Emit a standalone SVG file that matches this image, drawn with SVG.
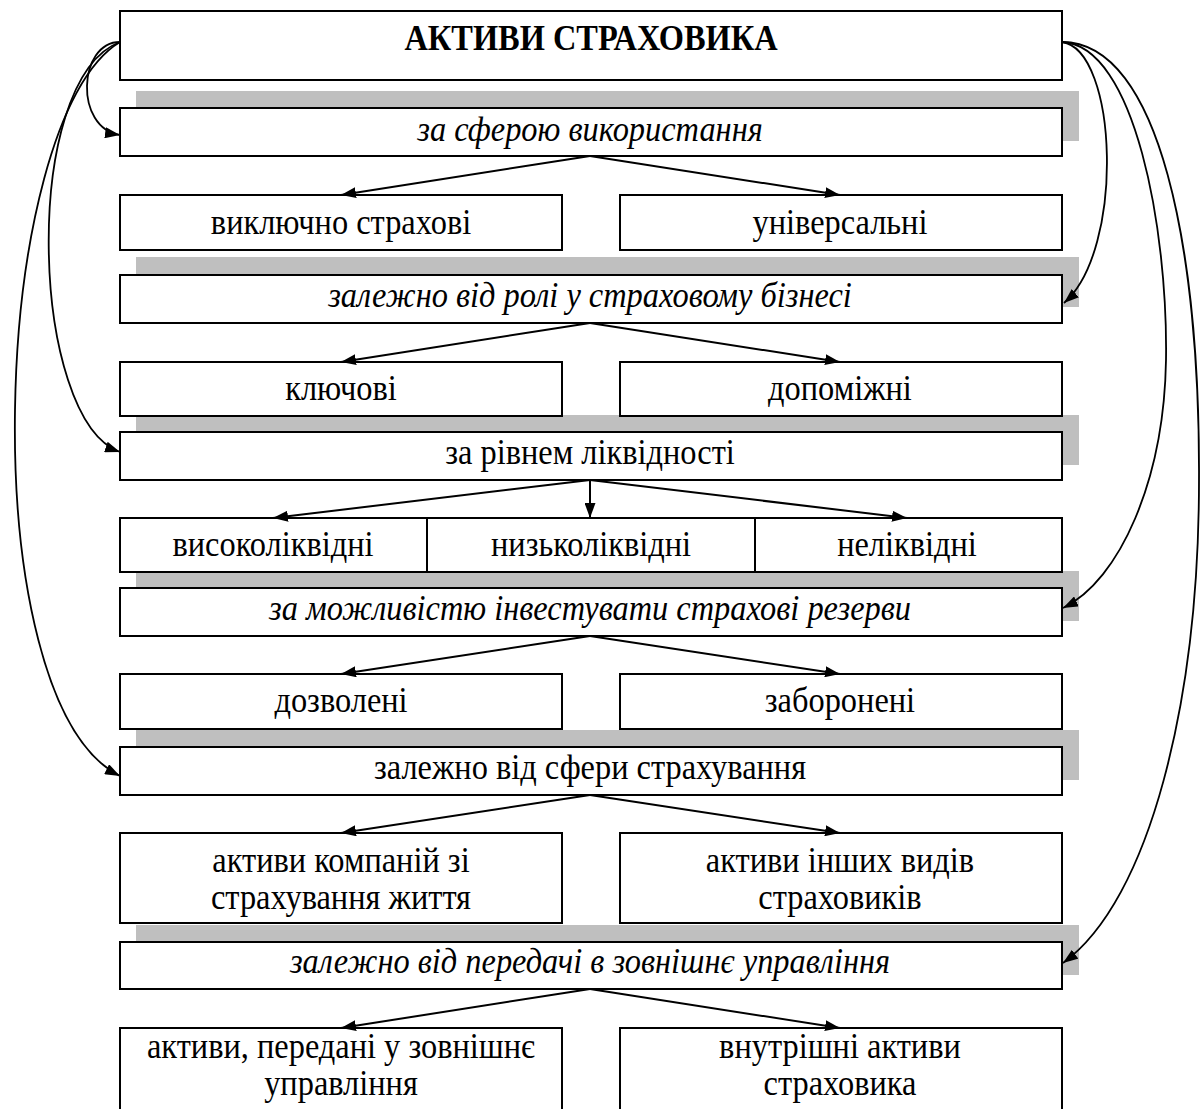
<svg xmlns="http://www.w3.org/2000/svg" width="1203" height="1109" viewBox="0 0 1203 1109">
<defs>
<marker id="ah" markerUnits="userSpaceOnUse" viewBox="0 0 15 11" markerWidth="15" markerHeight="11" refX="15" refY="5.5" orient="auto"><path d="M0,0 L15,5.5 L0,11 z" fill="#000"/></marker>
</defs>
<style>
.box{fill:#fff;stroke:#000;stroke-width:2}
.sh{fill:#bfbfbf}
text{font-family:'Liberation Serif','DejaVu Serif',serif;font-size:36px;fill:#000;text-anchor:middle}
.i{font-style:italic}
.b{font-weight:bold}
.c{fill:none;stroke:#000;stroke-width:2;marker-end:url(#ah)}
.k{fill:none;stroke:#000;stroke-width:1.8;marker-end:url(#ah)}
</style>
<g id="shadows">
<rect class="sh" x="136" y="91" width="943" height="50"/>
<rect class="sh" x="136" y="257" width="943" height="50"/>
<rect class="sh" x="136" y="415" width="943" height="50"/>
<rect class="sh" x="136" y="571" width="943" height="50"/>
<rect class="sh" x="136" y="730" width="943" height="50"/>
<rect class="sh" x="136" y="925" width="943" height="50"/>
</g>
<g id="root"><rect class="box" x="120" y="11" width="942" height="69"/></g>
<g id="cat1"><rect class="box" x="120" y="108" width="942" height="48"/></g>
<g id="n11"><rect class="box" x="120" y="195" width="442" height="55"/></g>
<g id="n12"><rect class="box" x="620" y="195" width="442" height="55"/></g>
<g id="cat2"><rect class="box" x="120" y="275" width="942" height="48"/></g>
<g id="n21"><rect class="box" x="120" y="362" width="442" height="54"/></g>
<g id="n22"><rect class="box" x="620" y="362" width="442" height="54"/></g>
<g id="cat3"><rect class="box" x="120" y="432" width="942" height="48"/></g>
<g id="row3"><rect class="box" x="120" y="518" width="942" height="54"/><line x1="427" y1="518" x2="427" y2="572" stroke="#000" stroke-width="2"/><line x1="755" y1="518" x2="755" y2="572" stroke="#000" stroke-width="2"/></g>
<g id="cat4"><rect class="box" x="120" y="588" width="942" height="48"/></g>
<g id="n41"><rect class="box" x="120" y="674" width="442" height="55"/></g>
<g id="n42"><rect class="box" x="620" y="674" width="442" height="55"/></g>
<g id="cat5"><rect class="box" x="120" y="747" width="942" height="48"/></g>
<g id="n51"><rect class="box" x="120" y="833" width="442" height="90"/></g>
<g id="n52"><rect class="box" x="620" y="833" width="442" height="90"/></g>
<g id="cat6"><rect class="box" x="120" y="942" width="942" height="47"/></g>
<g id="n61"><rect class="box" x="120" y="1028" width="442" height="100"/></g>
<g id="n62"><rect class="box" x="620" y="1028" width="442" height="100"/></g>
<g id="labels" transform="scale(0.9,1)">
<text class="b" x="656.7" y="50">АКТИВИ СТРАХОВИКА</text>
<text class="i" x="655.6" y="141">за сферою використання</text>
<text x="378.9" y="234">виключно страхові</text>
<text x="933.3" y="234">універсальні</text>
<text class="i" x="655.6" y="307">залежно від ролі у страховому бізнесі</text>
<text x="378.9" y="400">ключові</text>
<text x="933.3" y="400">допоміжні</text>
<text x="655.6" y="464">за рівнем ліквідності</text>
<text x="303.3" y="556">високоліквідні</text>
<text x="656.7" y="556">низьколіквідні</text>
<text x="1007.8" y="556">неліквідні</text>
<text class="i" x="655.6" y="620">за можливістю інвестувати страхові резерви</text>
<text x="378.9" y="712">дозволені</text>
<text x="933.3" y="712">заборонені</text>
<text x="655.6" y="779">залежно від сфери страхування</text>
<text x="378.9" y="872">активи компаній зі</text>
<text x="378.9" y="909">страхування життя</text>
<text x="933.3" y="872">активи інших видів</text>
<text x="933.3" y="909">страховиків</text>
<text class="i" x="655.6" y="973">залежно від передачі в зовнішнє управління</text>
<text x="378.9" y="1058">активи, передані у зовнішнє</text>
<text x="378.9" y="1095">управління</text>
<text x="933.3" y="1058">внутрішні активи</text>
<text x="933.3" y="1095">страховика</text>
</g>
<g id="connectors">
<path class="c" d="M590,156 L341,195"/>
<path class="c" d="M590,156 L840,195"/>
<path class="c" d="M590,323 L341,362"/>
<path class="c" d="M590,323 L840,362"/>
<path class="c" d="M590,480 L273,518"/>
<path class="c" d="M590,480 L590,518"/>
<path class="c" d="M590,480 L907,518"/>
<path class="c" d="M590,636 L341,674"/>
<path class="c" d="M590,636 L840,674"/>
<path class="c" d="M590,795 L341,833"/>
<path class="c" d="M590,795 L840,833"/>
<path class="c" d="M590,989 L341,1028"/>
<path class="c" d="M590,989 L840,1028"/>
<path class="k" d="M120,42 C78,42 74,128 120,135"/>
<path class="k" d="M120,42 C20,80 30,420 120,452"/>
<path class="k" d="M120,42 C-10,120 -30,700 120,776"/>
<path class="k" d="M1062,42 C1118,50 1125,250 1064,303"/>
<path class="k" d="M1062,42 C1135,45 1168,230 1166,360 C1164,480 1120,580 1063,608"/>
<path class="k" d="M1062,42 C1160,42 1200,250 1199,480 C1199,700 1150,900 1063,963"/>
</g>
</svg>
